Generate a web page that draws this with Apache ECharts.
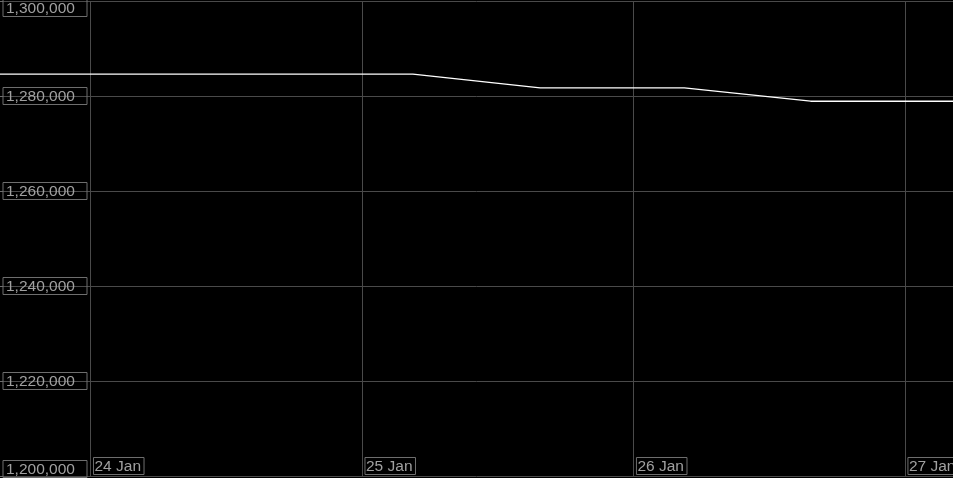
<!DOCTYPE html>
<html>
<head>
<meta charset="utf-8">
<title>chart</title>
<script src="https://cdn.jsdelivr.net/npm/echarts@6/dist/echarts.min.js"></script>
<style>
  html, body { margin: 0; padding: 0; background: #000; }
  #chart { width: 953px; height: 478px; }
</style>
</head>
<body>
<div id="chart"></div>
<script>
// data
const times = [
  '2025-01-23T16:00:00Z',
  '2025-01-25T04:30:00Z',
  '2025-01-25T15:45:00Z',
  '2025-01-26T04:30:00Z',
  '2025-01-26T15:40:00Z',
  '2025-01-27T04:15:00Z',
]
const values = [1284600, 1284600, 1281700, 1281700, 1278900, 1278900]
const months = ['Jan', 'Feb', 'Mar', 'Apr', 'May', 'Jun', 'Jul', 'Aug', 'Sep', 'Oct', 'Nov', 'Dec']
const yMin = 1200000
const yMax = 1300000
const yStep = 20000
const xMin = '2025-01-23T16:00:00Z'
const xMax = '2025-01-27T04:15:00Z'

const gridColor = '#4a4a4a'
const labelColor = '#a0a0a0'
const boxColor = '#6e6e6e'
const font = '"Liberation Sans", Arial, sans-serif'

const withCommas = (v) => String(v).replace(/\B(?=(\d{3})+(?!\d))/g, ',')

const chart = echarts.init(document.getElementById('chart'), null, { renderer: 'canvas' })

chart.setOption({
  backgroundColor: '#000',
  animation: false,
  useUTC: true,
  grid: {
    top: 1,
    bottom: 2,
    left: 0,
    right: 0,
    containLabel: false,
    outerBoundsMode: 'none',
  },
  xAxis: {
    type: 'time',
    min: xMin,
    max: xMax,
    minInterval: 86400000,
    maxInterval: 86400000,
    axisLine: { show: false },
    axisTick: { show: false },
    splitLine: {
      show: true,
      showMinLine: false,
      showMaxLine: false,
      lineStyle: { color: gridColor, width: 1 },
    },
    axisLabel: {
      inside: true,
      margin: 2,
      align: 'left',
      verticalAlign: 'bottom',
      hideOverlap: false,
      formatter: (v) => {
        const d = new Date(v)
        return '{g|}{b|' + d.getUTCDate() + ' ' + months[d.getUTCMonth()] + '}'
      },
      rich: {
        g: { width: 3, height: 16 },
        b: {
          color: labelColor,
          fontFamily: font,
          fontSize: 15.5,
          lineHeight: 15,
          borderColor: boxColor,
          borderWidth: 1,
          padding: [1, 3, 0, 1],
        },
      },
    },
  },
  yAxis: {
    type: 'value',
    min: yMin,
    max: yMax,
    interval: yStep,
    axisLine: { show: false },
    axisTick: { show: true, inside: true, length: 3, lineStyle: { color: boxColor } },
    splitLine: { show: true, lineStyle: { color: gridColor, width: 1 } },
    axisLabel: {
      inside: true,
      margin: 3,
      align: 'left',
      formatter: (v) => {
        const txt = '{b|' + withCommas(v) + '}'
        if (v === yMax) return '{s| }\n' + txt
        if (v === yMin) return txt + '\n{s| }'
        return txt
      },
      rich: {
        s: { fontSize: 10, lineHeight: 14 },
        b: {
          color: labelColor,
          fontFamily: font,
          fontSize: 15.5,
          lineHeight: 15,
          width: 81,
          borderColor: boxColor,
          borderWidth: 1,
          padding: [1, 0, 0, 3],
        },
      },
    },
  },
  series: [
    {
      type: 'line',
      data: times.map((t, i) => [t, values[i]]),
      showSymbol: false,
      lineStyle: { color: '#ffffff', width: 1.3 },
    },
  ],
})
</script>
</body>
</html>
